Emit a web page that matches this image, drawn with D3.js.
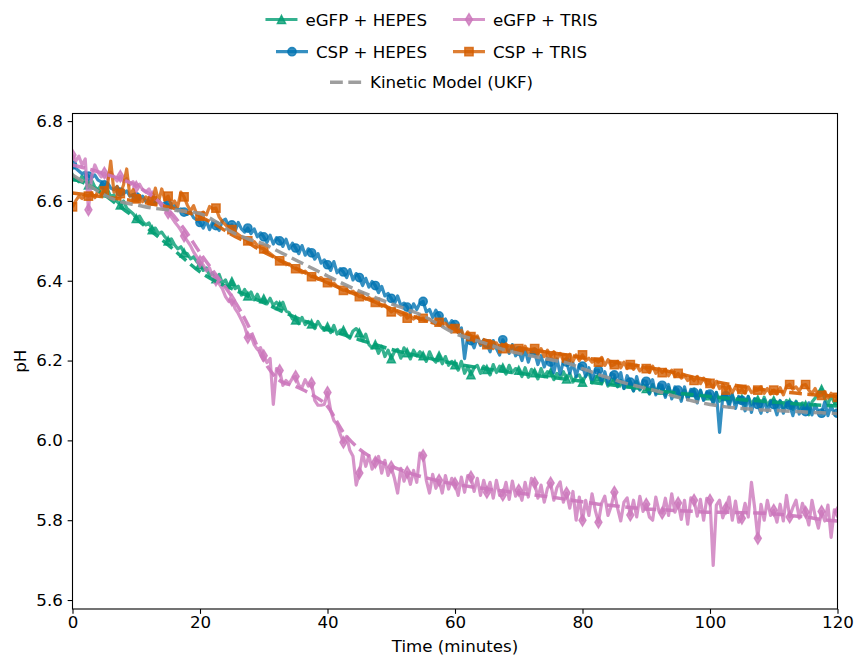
<!DOCTYPE html>
<html>
<head>
<meta charset="utf-8">
<script src="https://cdn.jsdelivr.net/npm/d3@7"></script>
<style>
  html, body { margin: 0; padding: 0; background: #fff; }
  svg { display: block; font-family: "DejaVu Sans", sans-serif; }
</style>
</head>
<body>
<svg id="chart" width="855" height="656"></svg>
<script>
// Measured pH, sampled every 0.5 min from 0 to 120 min (rows of 10 = 5 min)
const sampleStep = 0.5;
const markEvery = 5;

const egfpHepes = [
  6.660, 6.655, 6.648, 6.662, 6.650, 6.640, 6.652, 6.635, 6.628, 6.640,
  6.620, 6.628, 6.610, 6.615, 6.598, 6.590, 6.600, 6.582, 6.575, 6.568,
  6.556, 6.562, 6.548, 6.540, 6.545, 6.528, 6.532, 6.518, 6.522, 6.510,
  6.500, 6.505, 6.490, 6.480, 6.485, 6.470, 6.468, 6.455, 6.460, 6.448,
  6.440, 6.426, 6.432, 6.412, 6.420, 6.405, 6.416, 6.394, 6.402, 6.382,
  6.398, 6.380, 6.386, 6.364, 6.378, 6.362, 6.372, 6.352, 6.366, 6.348,
  6.355, 6.342, 6.356, 6.338, 6.346, 6.338, 6.346, 6.324, 6.320, 6.304,
  6.302, 6.292, 6.308, 6.290, 6.298, 6.292, 6.280, 6.298, 6.284, 6.276,
  6.285, 6.270, 6.288, 6.266, 6.276, 6.276, 6.262, 6.256, 6.274, 6.280,
  6.270, 6.250, 6.266, 6.240, 6.232, 6.240, 6.218, 6.236, 6.210, 6.226,
  6.205, 6.222, 6.228, 6.206, 6.232, 6.220, 6.204, 6.226, 6.212, 6.222,
  6.212, 6.198, 6.222, 6.204, 6.196, 6.212, 6.192, 6.210, 6.188, 6.198,
  6.190, 6.176, 6.198, 6.168, 6.184, 6.165, 6.182, 6.188, 6.168, 6.186,
  6.178, 6.164, 6.190, 6.170, 6.186, 6.182, 6.166, 6.188, 6.170, 6.180,
  6.176, 6.160, 6.182, 6.158, 6.178, 6.170, 6.154, 6.180, 6.160, 6.172,
  6.170, 6.152, 6.168, 6.156, 6.172, 6.154, 6.168, 6.146, 6.160, 6.164,
  6.146, 6.162, 6.170, 6.144, 6.160, 6.160, 6.142, 6.158, 6.136, 6.154,
  6.150, 6.134, 6.150, 6.130, 6.146, 6.142, 6.124, 6.148, 6.126, 6.140,
  6.130, 6.116, 6.140, 6.118, 6.136, 6.126, 6.112, 6.134, 6.114, 6.130,
  6.118, 6.104, 6.126, 6.106, 6.122, 6.120, 6.100, 6.124, 6.102, 6.118,
  6.112, 6.096, 6.120, 6.098, 6.114, 6.110, 6.092, 6.112, 6.094, 6.108,
  6.104, 6.088, 6.110, 6.090, 6.104, 6.102, 6.086, 6.108, 6.088, 6.100,
  6.100, 6.084, 6.098, 6.080, 6.100, 6.094, 6.078, 6.098, 6.080, 6.094,
  6.088, 6.064, 6.096, 6.106, 6.120, 6.128, 6.104, 6.090, 6.112, 6.094,
  6.100
];

const egfpTris = [
  6.715, 6.700, 6.712, 6.690, 6.705, 6.578, 6.660, 6.690, 6.672, 6.660,
  6.670, 6.655, 6.672, 6.660, 6.650, 6.662, 6.648, 6.656, 6.640, 6.648,
  6.635, 6.642, 6.628, 6.622, 6.630, 6.610, 6.604, 6.598, 6.586, 6.578,
  6.570, 6.560, 6.548, 6.538, 6.526, 6.512, 6.500, 6.488, 6.472, 6.460,
  6.448, 6.440, 6.425, 6.432, 6.410, 6.402, 6.392, 6.380, 6.360, 6.348,
  6.352, 6.330, 6.318, 6.302, 6.285, 6.258, 6.262, 6.240, 6.228, 6.232,
  6.212, 6.195, 6.205, 6.090, 6.180, 6.175, 6.138, 6.150, 6.142, 6.156,
  6.160, 6.138, 6.132, 6.152, 6.136, 6.143, 6.100, 6.088, 6.088, 6.090,
  6.120, 6.075, 6.050, 6.040, 6.015, 5.995, 6.010, 5.975, 5.960, 5.888,
  5.918, 5.968, 5.935, 5.962, 5.928, 5.945, 5.960, 5.918, 5.950, 5.912,
  5.933, 5.905, 5.868, 5.930, 5.898, 5.920, 5.890, 5.925, 5.895, 5.968,
  5.962, 5.900, 5.868, 5.915, 5.880, 5.900, 5.868, 5.912, 5.878, 5.905,
  5.892, 5.862, 5.908, 5.870, 5.912, 5.908, 5.872, 5.905, 5.862, 5.900,
  5.870, 5.895, 5.855, 5.900, 5.862, 5.863, 5.895, 5.852, 5.898, 5.860,
  5.875, 5.850, 5.895, 5.858, 5.905, 5.893, 5.855, 5.888, 5.845, 5.880,
  5.893, 5.850, 5.882, 5.896, 5.845, 5.868, 5.830, 5.872, 5.800, 5.858,
  5.800, 5.850, 5.812, 5.866, 5.825, 5.795, 5.842, 5.860, 5.812, 5.835,
  5.870, 5.830, 5.798, 5.845, 5.856, 5.813, 5.850, 5.808, 5.860, 5.822,
  5.840, 5.808, 5.800, 5.858, 5.822, 5.818, 5.855, 5.812, 5.866, 5.820,
  5.843, 5.802, 5.850, 5.790, 5.856, 5.850, 5.810, 5.852, 5.800, 5.855,
  5.850, 5.687, 5.838, 5.850, 5.806, 5.830, 5.858, 5.800, 5.848, 5.795,
  5.805, 5.842, 5.808, 5.895, 5.832, 5.755, 5.840, 5.800, 5.850, 5.812,
  5.825, 5.795, 5.840, 5.798, 5.862, 5.808, 5.832, 5.850, 5.805, 5.842,
  5.820, 5.788, 5.850, 5.810, 5.780, 5.822, 5.798, 5.838, 5.757, 5.826,
  5.820
];

const cspHepes = [
  6.690, 6.682, 6.675, 6.668, 6.672, 6.662, 6.658, 6.665, 6.652, 6.648,
  6.640, 6.645, 6.632, 6.628, 6.636, 6.622, 6.618, 6.625, 6.612, 6.616,
  6.610, 6.604, 6.612, 6.598, 6.604, 6.600, 6.594, 6.602, 6.588, 6.596,
  6.590, 6.582, 6.588, 6.576, 6.580, 6.572, 6.566, 6.572, 6.558, 6.552,
  6.546, 6.532, 6.550, 6.528, 6.548, 6.538, 6.526, 6.550, 6.554, 6.536,
  6.540, 6.524, 6.546, 6.530, 6.522, 6.532, 6.518, 6.530, 6.510, 6.520,
  6.510, 6.496, 6.514, 6.492, 6.508, 6.500, 6.486, 6.504, 6.480, 6.494,
  6.482, 6.468, 6.488, 6.464, 6.480, 6.470, 6.454, 6.468, 6.444, 6.452,
  6.440, 6.426, 6.448, 6.420, 6.430, 6.422, 6.408, 6.428, 6.402, 6.418,
  6.408, 6.388, 6.406, 6.384, 6.398, 6.388, 6.370, 6.386, 6.362, 6.368,
  6.356, 6.342, 6.362, 6.338, 6.344, 6.334, 6.320, 6.342, 6.328, 6.344,
  6.348, 6.322, 6.328, 6.308, 6.326, 6.312, 6.298, 6.304, 6.286, 6.300,
  6.290, 6.270, 6.282, 6.205, 6.262, 6.250, 6.232, 6.258, 6.238, 6.252,
  6.242, 6.222, 6.250, 6.230, 6.214, 6.252, 6.236, 6.218, 6.240, 6.212,
  6.224, 6.200, 6.228, 6.196, 6.222, 6.220, 6.190, 6.212, 6.184, 6.206,
  6.196, 6.170, 6.204, 6.166, 6.198, 6.196, 6.168, 6.194, 6.160, 6.190,
  6.186, 6.160, 6.182, 6.150, 6.176, 6.176, 6.146, 6.172, 6.140, 6.168,
  6.164, 6.136, 6.170, 6.130, 6.162, 6.146, 6.124, 6.160, 6.128, 6.150,
  6.148, 6.118, 6.152, 6.114, 6.140, 6.138, 6.108, 6.140, 6.104, 6.134,
  6.126, 6.098, 6.134, 6.102, 6.128, 6.120, 6.094, 6.126, 6.100, 6.122,
  6.116, 6.092, 6.120, 6.020, 6.110, 6.112, 6.084, 6.116, 6.080, 6.110,
  6.100, 6.074, 6.110, 6.070, 6.104, 6.090, 6.068, 6.102, 6.072, 6.098,
  6.090, 6.064, 6.100, 6.068, 6.094, 6.088, 6.062, 6.096, 6.066, 6.088,
  6.072, 6.094, 6.064, 6.090, 6.070, 6.068, 6.096, 6.062, 6.088, 6.066,
  6.068
];

const cspTris = [
  6.585, 6.600, 6.612, 6.606, 6.615, 6.612, 6.620, 6.608, 6.625, 6.618,
  6.625, 6.640, 6.700, 6.622, 6.636, 6.618, 6.640, 6.680, 6.612, 6.628,
  6.605, 6.612, 6.598, 6.610, 6.595, 6.600, 6.632, 6.598, 6.630, 6.602,
  6.612, 6.590, 6.600, 6.585, 6.622, 6.610, 6.590, 6.575, 6.588, 6.566,
  6.562, 6.572, 6.565, 6.586, 6.580, 6.582, 6.560, 6.548, 6.540, 6.532,
  6.528, 6.522, 6.516, 6.510, 6.505, 6.500, 6.494, 6.498, 6.488, 6.482,
  6.480, 6.474, 6.468, 6.462, 6.456, 6.450, 6.446, 6.440, 6.442, 6.434,
  6.430, 6.426, 6.420, 6.424, 6.416, 6.410, 6.412, 6.404, 6.408, 6.398,
  6.395, 6.390, 6.394, 6.386, 6.380, 6.376, 6.378, 6.370, 6.374, 6.366,
  6.360, 6.362, 6.354, 6.358, 6.350, 6.346, 6.342, 6.336, 6.340, 6.330,
  6.322, 6.328, 6.320, 6.314, 6.318, 6.306, 6.312, 6.304, 6.310, 6.302,
  6.306, 6.300, 6.304, 6.296, 6.300, 6.296, 6.290, 6.294, 6.284, 6.288,
  6.280, 6.270, 6.276, 6.258, 6.272, 6.260, 6.248, 6.262, 6.242, 6.250,
  6.240, 6.250, 6.230, 6.244, 6.226, 6.230, 6.242, 6.222, 6.238, 6.220,
  6.230, 6.218, 6.236, 6.220, 6.228, 6.230, 6.214, 6.230, 6.210, 6.226,
  6.212, 6.222, 6.204, 6.218, 6.200, 6.206, 6.216, 6.198, 6.214, 6.200,
  6.214, 6.200, 6.206, 6.196, 6.202, 6.196, 6.208, 6.188, 6.202, 6.186,
  6.190, 6.198, 6.182, 6.196, 6.180, 6.190, 6.178, 6.188, 6.174, 6.184,
  6.180, 6.170, 6.186, 6.168, 6.180, 6.170, 6.178, 6.162, 6.176, 6.160,
  6.168, 6.156, 6.162, 6.150, 6.158, 6.150, 6.160, 6.142, 6.156, 6.140,
  6.143, 6.132, 6.148, 6.130, 6.140, 6.126, 6.136, 6.120, 6.134, 6.122,
  6.128, 6.118, 6.134, 6.120, 6.124, 6.126, 6.134, 6.118, 6.130, 6.116,
  6.126, 6.116, 6.132, 6.114, 6.136, 6.140, 6.128, 6.134, 6.124, 6.138,
  6.140, 6.126, 6.118, 6.130, 6.110, 6.113, 6.122, 6.106, 6.118, 6.110,
  6.108
];

// Kinetic model (UKF) estimates, every 2.5 min from 0 to 120 min
const modelStep = 2.5;
const modelEgfpHepes = [
  6.655, 6.640, 6.615, 6.585, 6.555, 6.522, 6.490, 6.455, 6.422, 6.398,
  6.380, 6.362, 6.345, 6.326, 6.308, 6.292, 6.278, 6.265, 6.252, 6.240,
  6.228, 6.218, 6.209, 6.200, 6.192, 6.185, 6.179, 6.173, 6.168, 6.163,
  6.158, 6.153, 6.148, 6.143, 6.138, 6.133, 6.128, 6.123, 6.118, 6.114,
  6.110, 6.106, 6.102, 6.099, 6.096, 6.093, 6.090, 6.088, 6.086
];
const modelEgfpTris = [
  6.690, 6.680, 6.668, 6.655, 6.638, 6.612, 6.578, 6.530, 6.470, 6.415,
  6.360, 6.290, 6.200, 6.150, 6.135, 6.115, 6.085, 6.020, 5.978, 5.952,
  5.935, 5.920, 5.908, 5.898, 5.890, 5.884, 5.878, 5.873, 5.868, 5.863,
  5.858, 5.852, 5.846, 5.840, 5.836, 5.832, 5.828, 5.826, 5.824, 5.822,
  5.820, 5.820, 5.819, 5.818, 5.816, 5.812, 5.808, 5.802, 5.798
];
const modelCspHepes = [
  6.665, 6.640, 6.615, 6.598, 6.590, 6.582, 6.578, 6.574, 6.568, 6.548,
  6.522, 6.505, 6.492, 6.472, 6.452, 6.432, 6.412, 6.392, 6.374, 6.358,
  6.342, 6.328, 6.312, 6.290, 6.268, 6.255, 6.242, 6.228, 6.218, 6.210,
  6.202, 6.194, 6.180, 6.165, 6.152, 6.140, 6.130, 6.120, 6.108, 6.098,
  6.090, 6.084, 6.080, 6.077, 6.075, 6.073, 6.071, 6.069, 6.067
];
const modelCspTris = [
  6.620, 6.615, 6.610, 6.605, 6.600, 6.592, 6.585, 6.574, 6.560, 6.540,
  6.515, 6.495, 6.472, 6.452, 6.432, 6.412, 6.395, 6.378, 6.362, 6.346,
  6.330, 6.316, 6.302, 6.290, 6.276, 6.262, 6.250, 6.240, 6.232, 6.226,
  6.220, 6.214, 6.208, 6.202, 6.196, 6.190, 6.184, 6.176, 6.168, 6.158,
  6.150, 6.142, 6.135, 6.129, 6.124, 6.120, 6.116, 6.113, 6.110
];

const xTicks = [0, 20, 40, 60, 80, 100, 120];
const yTicks = [5.6, 5.8, 6.0, 6.2, 6.4, 6.6, 6.8];

const palette = {
  green: "#029e73", pink: "#cc78bc", blue: "#0173b2",
  orange: "#d55e00", grey: "#949494"
};

const series = [
  { name: "eGFP + HEPES", values: egfpHepes, color: palette.green, marker: "triangle" },
  { name: "CSP + HEPES",  values: cspHepes,  color: palette.blue,  marker: "circle" },
  { name: "eGFP + TRIS",  values: egfpTris,  color: palette.pink,  marker: "thinDiamond" },
  { name: "CSP + TRIS",   values: cspTris,   color: palette.orange, marker: "square" }
];
const models = [
  { values: modelEgfpHepes, color: palette.green },
  { values: modelEgfpTris,  color: palette.pink },
  { values: modelCspTris,   color: palette.orange },
  { values: modelCspHepes,  color: palette.grey }
];

// ---- layout ----
const plot = { left: 72.5, right: 837.5, top: 113.5, bottom: 609 };
const FS = 16.67;
const LW = 3.2;
const MS = 8.33;
const ALPHA = 0.8;

const svg = d3.select("#chart");
const x = d3.scaleLinear().domain([0, 120]).range([plot.left, plot.right]);
const y = d3.scaleLinear().domain([5.5775, 6.819]).range([plot.bottom, plot.top]);

svg.append("defs").append("clipPath").attr("id", "plotClip")
  .append("rect")
  .attr("x", plot.left).attr("y", plot.top)
  .attr("width", plot.right - plot.left).attr("height", plot.bottom - plot.top);

function markerPath(kind, s) {
  const h = s / 2;
  if (kind === "triangle") return `M0,${-h}L${-h},${h}L${h},${h}Z`;
  if (kind === "square") return `M${-h},${-h}H${h}V${h}H${-h}Z`;
  if (kind === "circle") return `M${h},0A${h},${h} 0 1,1 ${-h},0A${h},${h} 0 1,1 ${h},0Z`;
  if (kind === "thinDiamond") {
    const dy = s * Math.SQRT2 / 2, dx = dy * 0.6;
    return `M0,${-dy}L${dx},0L0,${dy}L${-dx},0Z`;
  }
  return "";
}

const plotG = svg.append("g").attr("clip-path", "url(#plotClip)");

const dataLine = d3.line()
  .x((d, i) => x(i * sampleStep))
  .y(d => y(d));

series.forEach(s => {
  const g = plotG.append("g");
  g.append("path")
    .attr("d", dataLine(s.values))
    .attr("fill", "none")
    .attr("stroke", s.color)
    .attr("stroke-opacity", ALPHA)
    .attr("stroke-width", LW)
    .attr("stroke-linejoin", "round");
  const marks = s.values.map((v, i) => ({ v, i })).filter(d => d.i % markEvery === 0);
  g.selectAll("path.mk").data(marks).join("path")
    .attr("class", "mk")
    .attr("d", markerPath(s.marker, MS))
    .attr("transform", d => `translate(${x(d.i * sampleStep)},${y(d.v)})`)
    .attr("fill", s.color).attr("fill-opacity", ALPHA)
    .attr("stroke", s.color).attr("stroke-opacity", ALPHA)
    .attr("stroke-width", 1.39);
});

const modelLine = d3.line()
  .x((d, i) => x(i * modelStep))
  .y(d => y(d))
  .curve(d3.curveMonotoneX);

models.forEach(m => {
  plotG.append("path")
    .attr("d", modelLine(m.values))
    .attr("fill", "none")
    .attr("stroke", m.color)
    .attr("stroke-opacity", 0.9)
    .attr("stroke-width", 3.47)
    .attr("stroke-dasharray", "12.8,5.5");
});

// ---- axes ----
const xAxis = svg.append("g")
  .attr("transform", `translate(0,${plot.bottom})`)
  .call(d3.axisBottom(x).tickValues(xTicks).tickFormat(d3.format("d"))
    .tickSize(4.86).tickPadding(4.86));
const yAxis = svg.append("g")
  .attr("transform", `translate(${plot.left},0)`)
  .call(d3.axisLeft(y).tickValues(yTicks).tickFormat(d3.format(".1f"))
    .tickSize(4.86).tickPadding(4.86));

[xAxis, yAxis].forEach(a => {
  a.select(".domain").remove();
  a.selectAll(".tick line").attr("stroke", "#000").attr("stroke-width", 1.1);
  a.selectAll(".tick text")
    .attr("fill", "#000")
    .style("font-family", "'DejaVu Sans', sans-serif")
    .style("font-size", FS + "px");
});
xAxis.selectAll(".tick text").attr("y", 7).attr("dy", "0.71em");

svg.append("rect")
  .attr("x", plot.left).attr("y", plot.top)
  .attr("width", plot.right - plot.left).attr("height", plot.bottom - plot.top)
  .attr("fill", "none").attr("stroke", "#000").attr("stroke-width", 1.1);

svg.append("text")
  .attr("x", (plot.left + plot.right) / 2).attr("y", 652)
  .attr("text-anchor", "middle")
  .style("font-size", FS + "px")
  .text("Time (minutes)");

svg.append("text")
  .attr("transform", `translate(26,${(plot.top + plot.bottom) / 2}) rotate(-90)`)
  .attr("text-anchor", "middle")
  .style("font-size", FS + "px")
  .text("pH");

// ---- legend: three centred rows ----
const legendRows = [
  { cy: 19.5, items: [series[0], series[2]] },
  { cy: 51.7, items: [series[1], series[3]] },
  { cy: 82.3, items: [{ name: "Kinetic Model (UKF)", color: palette.grey, dashed: true }] }
];
const handleLen = 32, handleGap = 8, colGap = 26, legendCenter = 431.5;

legendRows.forEach(row => {
  const g = svg.append("g");
  const widths = row.items.map(it => {
    const t = g.append("text").style("font-size", FS + "px").text(it.name);
    const w = t.node().getComputedTextLength();
    t.remove();
    return w;
  });
  const total = d3.sum(widths) + row.items.length * (handleLen + handleGap) + colGap * (row.items.length - 1);
  let cx = legendCenter - total / 2;
  row.items.forEach((it, k) => {
    if (it.dashed) {
      g.append("line")
        .attr("x1", cx).attr("x2", cx + handleLen)
        .attr("y1", row.cy).attr("y2", row.cy)
        .attr("stroke", it.color).attr("stroke-opacity", 0.9)
        .attr("stroke-width", 3.47).attr("stroke-dasharray", "12.8,5.5");
    } else {
      g.append("line")
        .attr("x1", cx).attr("x2", cx + handleLen)
        .attr("y1", row.cy).attr("y2", row.cy)
        .attr("stroke", it.color).attr("stroke-opacity", ALPHA)
        .attr("stroke-width", LW);
      g.append("path")
        .attr("d", markerPath(it.marker, MS))
        .attr("transform", `translate(${cx + handleLen / 2},${row.cy})`)
        .attr("fill", it.color).attr("fill-opacity", ALPHA)
        .attr("stroke", it.color).attr("stroke-opacity", ALPHA)
        .attr("stroke-width", 1.39);
    }
    g.append("text")
      .attr("x", cx + handleLen + handleGap)
      .attr("y", row.cy + 6.1)
      .style("font-size", FS + "px")
      .text(it.name);
    cx += handleLen + handleGap + widths[k] + colGap;
  });
});
</script>
</body>
</html>
